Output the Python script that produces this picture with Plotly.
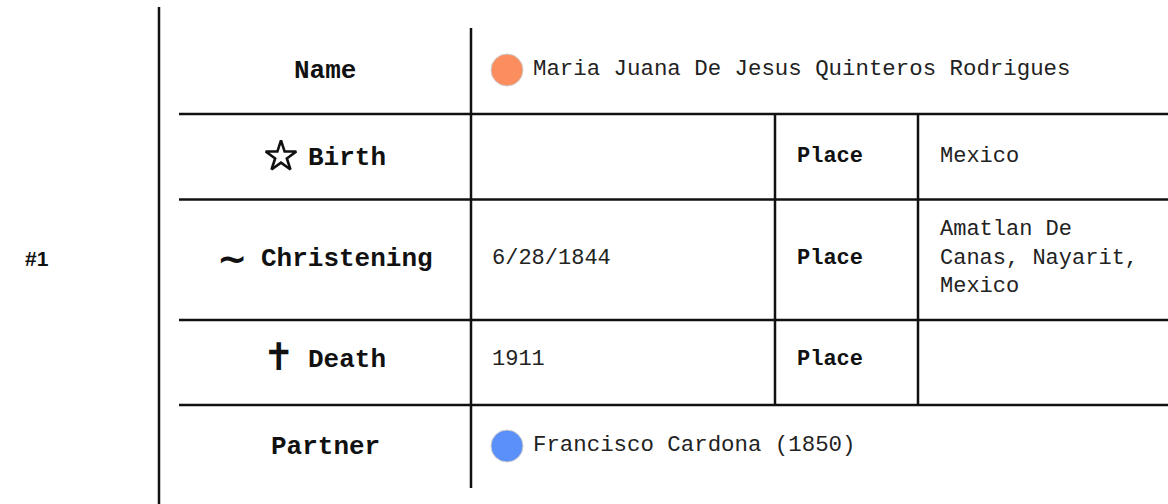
import plotly.graph_objects as go

# ---- data ----
person_label = "#1"
row_labels = ["Name", "Birth", "Christening", "Death", "Partner"]
row_icons = ["", "☆", "∼", "✝", ""]
person_name = "Maria Juana De Jesus Quinteros Rodrigues"
partner_name = "Francisco Cardona (1850)"
event_dates = ["", "6/28/1844", "1911"]          # Birth, Christening, Death
event_places = ["Mexico", "Amatlan De<br>Canas, Nayarit,<br>Mexico", ""]
place_label = "Place"
person_color = "#FC8D5E"
partner_color = "#5B8FF9"

W, H = 1168, 504
MONO = "Liberation Mono, Courier New, monospace"
LINE = "#111111"

fig = go.Figure()

# grid geometry
row_bounds = [28, 114, 199.5, 320, 405, 488]
row_centers = [70, 156.5, 258, 359, 446]
x_left, x_c1, x_c2, x_c3 = 179, 471, 775, 918

shapes = []
def hline(y, x0, x1):
    shapes.append(dict(type="line", xref="x", yref="y", x0=x0, x1=x1, y0=y, y1=y,
                       line=dict(color=LINE, width=2.5)))
def vline(x, y0, y1):
    shapes.append(dict(type="line", xref="x", yref="y", x0=x, x1=x, y0=y0, y1=y1,
                       line=dict(color=LINE, width=2.5)))

vline(159, 7, H)
vline(x_c1, row_bounds[0], row_bounds[-1])
for y in row_bounds[1:-1]:
    hline(y, x_left, W)
vline(x_c2, row_bounds[1], row_bounds[4])
vline(x_c3, row_bounds[1], row_bounds[4])

annotations = []
def ann(x, y, text, size, family=MONO, xanchor="left", color="#111", bold=False):
    annotations.append(dict(x=x, y=y, xref="x", yref="y", text=(f"<b>{text}</b>" if bold else text),
                            showarrow=False, xanchor=xanchor, yanchor="middle",
                            font=dict(family=family, size=size, color=color), align="left"))

# person label
ann(37, 258, person_label, 21, family="Liberation Sans", xanchor="center", bold=True)

# row labels
icon_x = {"Birth": 281, "Christening": 232, "Death": 279}
text_x = {"Birth": 306, "Christening": 259, "Death": 306}
for lab, icon, yc in zip(row_labels, row_icons, row_centers):
    if lab == "Birth":
        # outlined star icon drawn as a marker
        fig.add_trace(go.Scatter(x=[icon_x[lab]], y=[yc], mode="markers",
                                 marker=dict(symbol="star-open", size=23, color="#111",
                                             line=dict(color="#111", width=2.6)),
                                 hoverinfo="skip", showlegend=False))
        ann(text_x[lab], yc + 1, lab, 26, bold=True)
    elif icon:
        ann(icon_x[lab], yc - (2 if lab == "Death" else 0), icon,
            38 if lab == "Death" else 36, family="DejaVu Sans",
            xanchor="center", bold=True)
        ann(text_x[lab], yc + 1, lab, 26, bold=True)
    else:
        ann((x_left + x_c1) / 2, yc + 1, lab, 26, xanchor="center", bold=True)

# name + partner with circles
fig.add_trace(go.Scatter(x=[507, 507], y=[row_centers[0], row_centers[4]], mode="markers",
                         marker=dict(size=32, color=[person_color, partner_color],
                                     line=dict(color="#cccccc", width=1)),
                         hoverinfo="skip", showlegend=False))
ann(531, row_centers[0] - 1, person_name, 22.4, color="#222")
ann(531, row_centers[4] - 1, partner_name, 22.4, color="#222")

# events
for i, (d, p) in enumerate(zip(event_dates, event_places)):
    yc = row_centers[i + 1]
    if d:
        ann(x_c1 + 19, yc, d, 22, color="#222")
    ann(x_c2 + 20, yc, place_label, 22, bold=True)
    if p:
        ann(x_c3 + 20, yc, p, 22, color="#222")

fig.update_layout(
    width=W, height=H, margin=dict(l=0, r=0, t=0, b=0),
    paper_bgcolor="white", plot_bgcolor="white",
    xaxis=dict(range=[0, W], visible=False, fixedrange=True),
    yaxis=dict(range=[H, 0], visible=False, fixedrange=True),
    shapes=shapes, annotations=annotations,
)
fig.write_html("out.html", config={"displayModeBar": False},
               post_script="document.body.style.margin='0px';")
